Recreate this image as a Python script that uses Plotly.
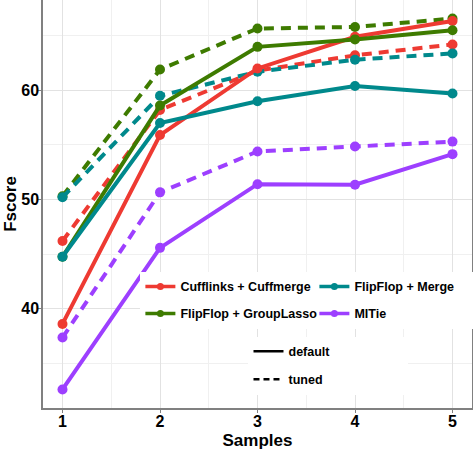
import plotly.graph_objects as go

samples = [1, 2, 3, 4, 5]

methods = ["Cufflinks + Cuffmerge", "FlipFlop + GroupLasso", "FlipFlop + Merge", "MITie"]
colors = ["#EE3A32", "#3E7B00", "#00898C", "#9D3FFF"]

default_vals = {
    "Cufflinks + Cuffmerge": [38.6, 55.9, 62.0, 64.9, 66.35],
    "FlipFlop + GroupLasso": [44.75, 58.6, 63.98, 64.66, 65.5],
    "FlipFlop + Merge": [44.75, 57.0, 59.0, 60.4, 59.7],
    "MITie": [32.6, 45.57, 51.4, 51.35, 54.15],
}
tuned_vals = {
    "Cufflinks + Cuffmerge": [46.2, 58.2, 61.8, 63.2, 64.2],
    "FlipFlop + GroupLasso": [50.3, 61.9, 65.66, 65.8, 66.57],
    "FlipFlop + Merge": [50.2, 59.5, 61.7, 62.8, 63.38],
    "MITie": [37.35, 50.65, 54.4, 54.85, 55.3],
}

legend_of = {
    "Cufflinks + Cuffmerge": "legend",
    "FlipFlop + Merge": "legend",
    "FlipFlop + GroupLasso": "legend3",
    "MITie": "legend3",
}
legend_order = ["Cufflinks + Cuffmerge", "FlipFlop + Merge", "FlipFlop + GroupLasso", "MITie"]

DASH = "10px,7px"
fig = go.Figure()

for m, c in zip(methods, colors):
    fig.add_trace(go.Scatter(
        x=samples, y=tuned_vals[m], mode="lines+markers", name=m,
        line=dict(color=c, width=4, dash=DASH), marker=dict(color=c, size=10),
        showlegend=False,
    ))
for m, c in zip(methods, colors):
    fig.add_trace(go.Scatter(
        x=samples, y=default_vals[m], mode="lines+markers", name=m,
        line=dict(color=c, width=4), marker=dict(color=c, size=10),
        showlegend=False,
    ))

# colour legend entries
col_of = dict(zip(methods, colors))
for m in legend_order:
    fig.add_trace(go.Scatter(x=[None], y=[None], mode="lines+markers", name=m,
                             line=dict(color=col_of[m], width=3.5), marker=dict(color=col_of[m], size=7),
                             legend=legend_of[m]))

# linetype legend
fig.add_trace(go.Scatter(x=[None], y=[None], mode="lines", name="default",
                         line=dict(color="black", width=2.5), legend="legend2"))
fig.add_trace(go.Scatter(x=[None], y=[None], mode="lines", name="tuned",
                         line=dict(color="black", width=2.5, dash="6px,4px"), legend="legend4"))

FONT = "Liberation Sans, Arial, sans-serif"
legfont = dict(family=FONT, size=12.5, color="black", weight="bold")

def leg(x, y, ew=115):
    return dict(x=x, y=y, xanchor="left", yanchor="middle", orientation="h",
                bgcolor="white", font=legfont, entrywidth=ew, entrywidthmode="pixels",
                borderwidth=0)

PH = 408.3
fig.update_layout(
    width=473, height=450,
    margin=dict(l=43, r=1, t=0, b=42, autoexpand=False),
    paper_bgcolor="white", plot_bgcolor="white",
    font=dict(family=FONT, color="black"),
    legend=leg(0.227, 1 - 287 / PH, 129),
    legend3=leg(0.227, 1 - 314 / PH, 129),
    legend2=leg(0.479, 1 - 352 / PH),
    legend4=leg(0.479, 1 - 380 / PH),
    xaxis=dict(
        range=[0.8, 5.2], tickvals=samples, ticktext=[str(s) for s in samples],
        showgrid=True, gridcolor="#E2E2E2", gridwidth=1,
        minor=dict(dtick=0.5, showgrid=True, gridcolor="#F0F0F0", gridwidth=1),
        showline=True, linecolor="#808080", linewidth=1.5, mirror=True,
        ticks="outside", ticklen=3, tickcolor="#808080", tickwidth=1,
        ticklabelstandoff=-5,
        tickfont=dict(family=FONT, size=16, color="black", weight="bold"),
        title=dict(text="Samples", font=dict(family=FONT, size=17, color="black", weight="bold"), standoff=7),
        zeroline=False, automargin=False,
    ),
    yaxis=dict(
        range=[30.9, 68.27], tickvals=[40, 50, 60],
        showgrid=True, gridcolor="#E2E2E2", gridwidth=1,
        minor=dict(tickvals=[35, 45, 55, 65], showgrid=True, gridcolor="#F0F0F0", gridwidth=1),
        showline=True, linecolor="#808080", linewidth=1.5, mirror=True,
        ticks="outside", ticklen=3, tickcolor="#808080", tickwidth=1,
        ticklabelstandoff=-4,
        tickfont=dict(family=FONT, size=16, color="black", weight="bold"),
        title=dict(text="Fscore", font=dict(family=FONT, size=17, color="black", weight="bold"), standoff=0),
        zeroline=False, automargin=False,
    ),
)

fig.write_html("out.html", config={"displayModeBar": False},
               post_script="document.body.style.margin='0px';document.body.style.overflow='hidden';")
